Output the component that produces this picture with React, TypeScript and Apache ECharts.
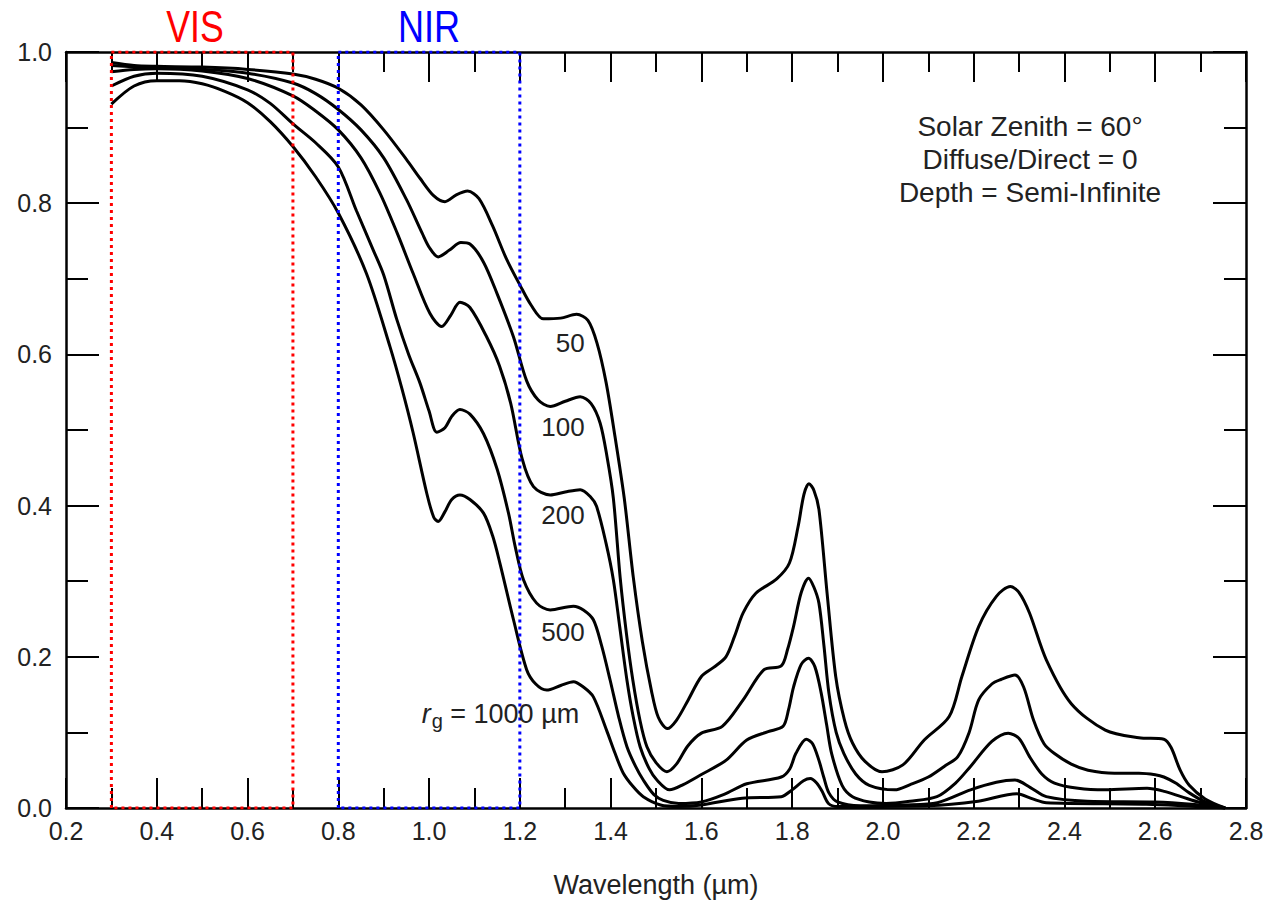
import React, { useEffect, useRef } from "react";
import * as echarts from "echarts";

const FONT = "'Liberation Sans', Arial, Helvetica, sans-serif";

// Grain radius curves (wavelength µm, reflectance)
const wl50 = [0.3, 0.35, 0.4, 0.5, 0.6, 0.7, 0.75, 0.8, 0.85, 0.9, 0.95, 0.98, 1.01, 1.035, 1.06, 1.085, 1.11, 1.14, 1.17, 1.2, 1.225, 1.252, 1.29, 1.325, 1.35, 1.37, 1.39, 1.41, 1.43, 1.45, 1.47, 1.49, 1.505, 1.525, 1.545, 1.571, 1.6, 1.627, 1.654, 1.673, 1.692, 1.72, 1.766, 1.794, 1.813, 1.826, 1.837, 1.848, 1.859, 1.877, 1.896, 1.915, 1.933, 1.96, 1.998, 2.044, 2.091, 2.146, 2.174, 2.211, 2.25, 2.281, 2.3, 2.323, 2.36, 2.415, 2.49, 2.564, 2.619, 2.635, 2.655, 2.675, 2.71, 2.754];
const r50 = [0.986, 0.982, 0.981, 0.98, 0.977, 0.971, 0.964, 0.952, 0.93, 0.897, 0.858, 0.833, 0.81, 0.802, 0.811, 0.816, 0.806, 0.77, 0.727, 0.692, 0.665, 0.647, 0.648, 0.653, 0.645, 0.615, 0.563, 0.49, 0.41, 0.305, 0.22, 0.155, 0.12, 0.105, 0.116, 0.143, 0.174, 0.186, 0.2, 0.227, 0.258, 0.284, 0.303, 0.324, 0.372, 0.415, 0.429, 0.42, 0.395, 0.284, 0.174, 0.117, 0.086, 0.062, 0.048, 0.057, 0.09, 0.121, 0.174, 0.24, 0.28, 0.293, 0.285, 0.258, 0.196, 0.138, 0.103, 0.093, 0.091, 0.08, 0.05, 0.03, 0.012, 0.0];

const wl100 = [0.3, 0.4, 0.5, 0.6, 0.7, 0.75, 0.8, 0.85, 0.9, 0.95, 0.985, 1.0, 1.02, 1.045, 1.07, 1.09, 1.12, 1.15, 1.186, 1.215, 1.24, 1.267, 1.3, 1.333, 1.357, 1.377, 1.392, 1.406, 1.421, 1.435, 1.449, 1.465, 1.48, 1.5, 1.524, 1.545, 1.57, 1.6, 1.646, 1.692, 1.738, 1.776, 1.79, 1.803, 1.82, 1.836, 1.848, 1.859, 1.87, 1.881, 1.897, 1.914, 1.94, 1.97, 2.026, 2.06, 2.1, 2.135, 2.165, 2.19, 2.211, 2.24, 2.26, 2.291, 2.31, 2.332, 2.355, 2.378, 2.415, 2.452, 2.51, 2.564, 2.6, 2.619, 2.645, 2.675, 2.71, 2.754];
const r100 = [0.982, 0.979, 0.977, 0.972, 0.959, 0.945, 0.924, 0.897, 0.86, 0.805, 0.76, 0.742, 0.729, 0.738, 0.748, 0.746, 0.722, 0.68, 0.623, 0.565, 0.54, 0.531, 0.538, 0.544, 0.535, 0.509, 0.465, 0.41, 0.305, 0.23, 0.169, 0.115, 0.081, 0.06, 0.048, 0.058, 0.082, 0.099, 0.108, 0.143, 0.183, 0.188, 0.21, 0.24, 0.285, 0.304, 0.292, 0.271, 0.215, 0.152, 0.1, 0.072, 0.045, 0.03, 0.024, 0.031, 0.041, 0.055, 0.068, 0.1, 0.143, 0.164, 0.17, 0.176, 0.16, 0.116, 0.085, 0.072, 0.058, 0.05, 0.046, 0.046, 0.044, 0.041, 0.033, 0.02, 0.008, 0.0];

const wl200 = [0.3, 0.35, 0.4, 0.5, 0.6, 0.7, 0.75, 0.8, 0.85, 0.892, 0.93, 0.965, 1.002, 1.028, 1.048, 1.068, 1.09, 1.127, 1.155, 1.18, 1.205, 1.23, 1.267, 1.3, 1.333, 1.355, 1.369, 1.39, 1.406, 1.42, 1.436, 1.45, 1.465, 1.485, 1.502, 1.53, 1.56, 1.599, 1.654, 1.7, 1.747, 1.78, 1.792, 1.803, 1.82, 1.836, 1.85, 1.864, 1.876, 1.887, 1.91, 1.933, 1.97, 2.007, 2.06, 2.119, 2.16, 2.193, 2.24, 2.276, 2.3, 2.323, 2.35, 2.378, 2.43, 2.49, 2.582, 2.62, 2.657, 2.7, 2.754];
const r200 = [0.974, 0.977, 0.978, 0.975, 0.965, 0.942, 0.922, 0.897, 0.86, 0.813, 0.76, 0.707, 0.654, 0.637, 0.652, 0.669, 0.662, 0.623, 0.585, 0.535, 0.462, 0.425, 0.414, 0.418, 0.421, 0.412, 0.399, 0.35, 0.302, 0.24, 0.169, 0.12, 0.081, 0.052, 0.037, 0.024, 0.031, 0.044, 0.063, 0.09, 0.101, 0.108, 0.13, 0.16, 0.19, 0.198, 0.187, 0.152, 0.11, 0.072, 0.03, 0.015, 0.008, 0.006, 0.009, 0.015, 0.033, 0.055, 0.088, 0.099, 0.092, 0.068, 0.045, 0.033, 0.026, 0.024, 0.026, 0.022, 0.015, 0.007, 0.0];

const wl500 = [0.3, 0.35, 0.4, 0.5, 0.6, 0.65, 0.7, 0.75, 0.8, 0.84, 0.877, 0.9, 0.929, 0.955, 0.98, 1.0, 1.017, 1.035, 1.05, 1.068, 1.09, 1.12, 1.15, 1.175, 1.19, 1.208, 1.237, 1.267, 1.318, 1.34, 1.362, 1.38, 1.399, 1.418, 1.436, 1.455, 1.472, 1.495, 1.516, 1.55, 1.6, 1.65, 1.7, 1.776, 1.795, 1.808, 1.831, 1.845, 1.859, 1.87, 1.881, 1.9, 1.95, 2.05, 2.12, 2.193, 2.25, 2.291, 2.325, 2.36, 2.45, 2.6, 2.68, 2.754];
const r500 = [0.955, 0.968, 0.972, 0.968, 0.95, 0.932, 0.905, 0.88, 0.848, 0.79, 0.738, 0.705, 0.646, 0.6, 0.562, 0.525, 0.497, 0.503, 0.518, 0.527, 0.521, 0.495, 0.448, 0.39, 0.345, 0.302, 0.271, 0.262, 0.267, 0.262, 0.249, 0.215, 0.169, 0.12, 0.081, 0.055, 0.037, 0.018, 0.01, 0.006, 0.008, 0.018, 0.032, 0.041, 0.052, 0.072, 0.091, 0.085, 0.063, 0.04, 0.02, 0.008, 0.003, 0.004, 0.007, 0.024, 0.034, 0.037, 0.027, 0.015, 0.009, 0.008, 0.005, 0.0];

const wl1000 = [0.3, 0.35, 0.4, 0.45, 0.5, 0.55, 0.6, 0.65, 0.7, 0.75, 0.8, 0.862, 0.914, 0.94, 0.965, 0.995, 1.01, 1.02, 1.035, 1.05, 1.068, 1.09, 1.12, 1.14, 1.156, 1.186, 1.215, 1.235, 1.259, 1.29, 1.318, 1.34, 1.362, 1.391, 1.41, 1.428, 1.45, 1.472, 1.51, 1.55, 1.6, 1.69, 1.776, 1.8, 1.825, 1.84, 1.854, 1.866, 1.88, 1.9, 2.1, 2.21, 2.295, 2.33, 2.36, 2.58, 2.754];
const r1000 = [0.931, 0.955, 0.962, 0.962, 0.958, 0.948, 0.933, 0.908, 0.875, 0.835, 0.787, 0.707, 0.61, 0.555, 0.496, 0.416, 0.385, 0.379, 0.392, 0.408, 0.414, 0.408, 0.39, 0.36, 0.324, 0.249, 0.183, 0.164, 0.156, 0.162, 0.167, 0.16, 0.147, 0.103, 0.072, 0.046, 0.028, 0.015, 0.004, 0.002, 0.004, 0.013, 0.015, 0.024, 0.036, 0.039, 0.033, 0.022, 0.006, 0.002, 0.003, 0.009, 0.019, 0.012, 0.007, 0.005, 0.0];

const curveNames = ["50", "100", "200", "500", "1000"];
const curveWl = [wl50, wl100, wl200, wl500, wl1000];
const curveR = [r50, r100, r200, r500, r1000];

// Spectral band boxes
const visX = [0.3, 0.3, 0.7, 0.7, 0.3];
const visY = [0, 1, 1, 0, 0];
const nirX = [0.8, 0.8, 1.2, 1.2, 0.8];
const nirY = [0, 1, 1, 0, 0];

const infoLines = ["Solar Zenith = 60°", "Diffuse/Direct = 0", "Depth = Semi-Infinite"];

const zip = (a: number[], b: number[]) => a.map((v, i) => [v, b[i]]);

export default function App() {
  const ref = useRef<HTMLDivElement>(null);
  useEffect(() => {
    if (!ref.current) return;
    const chart = echarts.init(ref.current, undefined, { renderer: "svg" });
    const tickStyle = { color: "#000", width: 2 };
    const baseX = {
      type: "value",
      min: 0.2,
      max: 2.8,
      interval: 0.2,
      axisLine: { show: true, onZero: false, lineStyle: { color: "#000", width: 2.5 } },
      axisTick: { show: true, inside: true, length: 30, lineStyle: tickStyle },
      minorTick: { show: true, splitNumber: 2, length: 20, lineStyle: tickStyle },
      splitLine: { show: false },
      minorSplitLine: { show: false },
    };
    const baseY = {
      type: "value",
      min: 0,
      max: 1,
      interval: 0.2,
      axisLine: { show: true, onZero: false, lineStyle: { color: "#000", width: 2.5 } },
      axisTick: { show: true, inside: true, length: 33, lineStyle: tickStyle },
      minorTick: { show: true, splitNumber: 2, length: 22, lineStyle: tickStyle },
      splitLine: { show: false },
      minorSplitLine: { show: false },
    };
    const curveSeries = curveNames.map((n, i) => ({
      name: n,
      type: "line",
      data: zip(curveWl[i], curveR[i]),
      showSymbol: false,
      symbol: "none",
      smooth: 0.3,
      lineStyle: { color: "#000", width: 3 },
      z: 3,
    }));
    const boxSeries = [
      { name: "VIS", x: visX, y: visY, color: "#ff0000" },
      { name: "NIR", x: nirX, y: nirY, color: "#0000ff" },
    ].map((b) => ({
      name: b.name,
      type: "line",
      data: zip(b.x, b.y),
      showSymbol: false,
      symbol: "none",
      lineStyle: { color: b.color, width: 3, type: [3, 4] },
      z: 4,
    }));

    chart.setOption({
      animation: false,
      backgroundColor: "#fff",
      textStyle: { fontFamily: FONT },
      grid: { left: 66, right: 25, top: 52, bottom: 94, containLabel: false, outerBoundsMode: "none" },
      xAxis: [
        {
          ...baseX,
          position: "bottom",
          axisLabel: {
            formatter: (v: number) => v.toFixed(1),
            fontSize: 25,
            color: "#222",
            margin: 10,
            fontFamily: FONT,
          },
          name: "Wavelength (µm)",
          nameLocation: "middle",
          nameGap: 63,
          nameTextStyle: { fontSize: 27, color: "#222", fontFamily: FONT },
        },
        { ...baseX, position: "top", axisLabel: { show: false } },
      ],
      yAxis: [
        {
          ...baseY,
          position: "left",
          axisLabel: {
            formatter: (v: number) => v.toFixed(1),
            fontSize: 25,
            color: "#222",
            margin: 14,
            fontFamily: FONT,
          },
        },
        { ...baseY, position: "right", axisLabel: { show: false } },
      ],
      series: [...curveSeries, ...boxSeries],
    });

    const px = (x: number, y: number) => chart.convertToPixel({ xAxisIndex: 0, yAxisIndex: 0 }, [x, y]);
    const label = (txt: string, x: number, y: number, size = 26) => {
      const p = px(x, y);
      return {
        type: "text",
        x: p[0],
        y: p[1],
        style: { text: txt, fill: "#222", font: `${size}px ${FONT}`, align: "center", verticalAlign: "middle" },
        z: 10,
      };
    };
    const rgPos = px(1.16, 0.125);
    chart.setOption({
      graphic: [
        {
          type: "text",
          x: 195,
          y: 27,
          scaleX: 0.81,
          style: { text: "VIS", fill: "#ff0000", font: `44px ${FONT}`, align: "center", verticalAlign: "middle" },
        },
        {
          type: "text",
          x: 429,
          y: 27,
          scaleX: 0.82,
          style: { text: "NIR", fill: "#0000ff", font: `44px ${FONT}`, align: "center", verticalAlign: "middle" },
        },
        ...infoLines.map((t, i) => ({
          type: "text",
          x: 1030,
          y: 126 + i * 33,
          style: { text: t, fill: "#222", font: `28px ${FONT}`, align: "center", verticalAlign: "middle" },
        })),
        label("50", 1.311, 0.615),
        label("100", 1.295, 0.504),
        label("200", 1.295, 0.388),
        label("500", 1.295, 0.233),
        {
          type: "text",
          x: rgPos[0] - 80,
          y: rgPos[1],
          style: {
            text: "{r|r}{g|g}{t| = 1000 µm}",
            fill: "#222",
            align: "left",
            verticalAlign: "middle",
            rich: {
              r: { fontSize: 27, fontStyle: "italic", fontFamily: FONT, fill: "#222" },
              g: { fontSize: 20, fontFamily: FONT, fill: "#222", padding: [14, 0, 0, 1] },
              t: { fontSize: 27, fontFamily: FONT, fill: "#222" },
            },
          },
          z: 10,
        },
      ],
    });
    return () => chart.dispose();
  }, []);
  return <div ref={ref} style={{ width: 1271, height: 902, position: "absolute", left: 0, top: 0 }} />;
}
